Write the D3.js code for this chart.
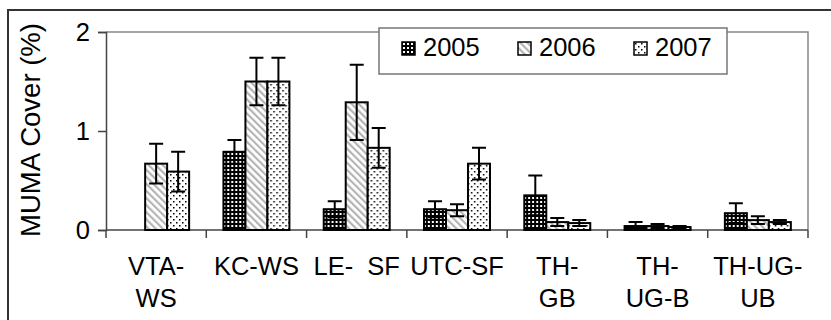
<!DOCTYPE html>
<html lang="en">
<head>
    <meta charset="UTF-8">
    <title>MUMA Cover</title>
    <script src="https://d3js.org/d3.v7.min.js"></script>
    <style>
        body { margin: 0; background: #fff; }
        text { font-family: "Liberation Sans", Arial, sans-serif; fill: #000; }
        .bar { stroke: #000; stroke-width: 2px; }
        .err { stroke: #000; stroke-width: 2px; fill: none; }
    </style>
</head>
<body>
    <svg id="chart" width="831" height="320"></svg>

    <script>
        // data
        const categories = ["VTA-WS", "KC-WS", "LE-SF", "UTC-SF", "TH-GB", "TH-UG-B", "TH-UG-UB"];
        const tickLabels = [["VTA-", "WS"], ["KC-WS"], ["LE-\u00a0\u00a0SF"], ["UTC-SF"], ["TH-", "GB"], ["TH-", "UG-B"], ["TH-UG-", "UB"]];
        const years = ["2005", "2006", "2007"];
        const v2005 = [null, 0.79, 0.21, 0.21, 0.35, 0.04, 0.17];
        const e2005 = [null, 0.12, 0.08, 0.08, 0.20, 0.04, 0.10];
        const v2006 = [0.67, 1.50, 1.29, 0.20, 0.08, 0.04, 0.10];
        const e2006 = [0.20, 0.24, 0.38, 0.06, 0.04, 0.02, 0.04];
        const v2007 = [0.59, 1.50, 0.83, 0.67, 0.07, 0.03, 0.08];
        const e2007 = [0.20, 0.24, 0.20, 0.16, 0.03, 0.01, 0.02];
        const yTicks = [0, 1, 2];

        const values = { "2005": v2005, "2006": v2006, "2007": v2007 };
        const errors = { "2005": e2005, "2006": e2006, "2007": e2007 };

        const svg = d3.select("#chart");
        const margin = { left: 106, top: 32, right: 23, bottom: 90 };
        const width = 831 - margin.left - margin.right;
        const height = 320 - margin.top - margin.bottom;
        const fs = 25.5;

        // fill patterns, one per year
        const defs = svg.append("defs");
        const p1 = defs.append("pattern").attr("id", "p2005")
            .attr("patternUnits", "userSpaceOnUse").attr("width", 4).attr("height", 4);
        p1.append("rect").attr("width", 4).attr("height", 4).attr("fill", "#000");
        p1.append("rect").attr("x", 1).attr("y", 1).attr("width", 2).attr("height", 2).attr("fill", "#fff");

        const p2 = defs.append("pattern").attr("id", "p2006")
            .attr("patternUnits", "userSpaceOnUse").attr("width", 5).attr("height", 5)
            .attr("patternTransform", "rotate(-45)");
        p2.append("rect").attr("width", 5).attr("height", 5).attr("fill", "#fff");
        p2.append("rect").attr("width", 2.2).attr("height", 5).attr("fill", "#b4b4b4");

        const p3 = defs.append("pattern").attr("id", "p2007")
            .attr("patternUnits", "userSpaceOnUse").attr("width", 6).attr("height", 6);
        p3.append("rect").attr("width", 6).attr("height", 6).attr("fill", "#fff");
        p3.append("rect").attr("x", 1).attr("y", 1).attr("width", 1.5).attr("height", 1.5).attr("fill", "#000");
        p3.append("rect").attr("x", 4).attr("y", 4).attr("width", 1.5).attr("height", 1.5).attr("fill", "#000");

        // outer frame (only left and top show)
        svg.append("path")
            .attr("d", "M8,320 V10 H831")
            .attr("fill", "none").attr("stroke", "#333").attr("stroke-width", 2);

        const g = svg.append("g").attr("transform", `translate(${margin.left},${margin.top})`);

        const x0 = d3.scaleBand().domain(categories).range([0, width]).padding(0);
        const x1 = d3.scaleBand().domain(years).range([0, x0.bandwidth()]).paddingInner(0).paddingOuter(0.78);
        const y = d3.scaleLinear().domain([0, 2]).range([height, 0]);

        // plot area border, top and right
        g.append("path")
            .attr("d", `M0,0 H${width} V${height}`)
            .attr("fill", "none").attr("stroke", "#888").attr("stroke-width", 1.5);

        // y axis
        const yAxis = g.append("g")
            .call(d3.axisLeft(y).tickValues(yTicks).tickFormat(d3.format("d")).tickSize(8).tickPadding(8));
        yAxis.select(".domain").attr("stroke", "#444").attr("stroke-width", 1.5);
        yAxis.selectAll(".tick line").attr("stroke", "#444").attr("stroke-width", 1.5);
        yAxis.selectAll("text").attr("font-size", fs).attr("font-family", "Liberation Sans, Arial, sans-serif");

        // x axis line and ticks at band edges
        g.append("line")
            .attr("x1", 0).attr("x2", width).attr("y1", height).attr("y2", height)
            .attr("stroke", "#444").attr("stroke-width", 1.5);
        const edges = categories.map(c => x0(c)).concat([width]);
        g.selectAll(".xtick")
            .data(edges)
            .enter()
            .append("line")
            .attr("class", "xtick")
            .attr("x1", d => d).attr("x2", d => d)
            .attr("y1", height).attr("y2", height + 8)
            .attr("stroke", "#444").attr("stroke-width", 1.5);

        // category labels, may wrap on two lines
        const lbl = g.selectAll(".xlabel")
            .data(categories)
            .enter()
            .append("text")
            .attr("class", "xlabel")
            .attr("text-anchor", "middle")
            .attr("font-size", fs)
            .attr("transform", d => `translate(${x0(d) + x0.bandwidth() / 2},${height + 45})`);
        lbl.each(function(d, i) {
            const t = d3.select(this);
            tickLabels[i].forEach((line, j) => {
                t.append("tspan").attr("x", 0).attr("dy", j === 0 ? 0 : 32).text(line);
            });
        });

        // bars
        const groups = g.selectAll(".grp")
            .data(categories)
            .enter()
            .append("g")
            .attr("class", "grp")
            .attr("transform", d => `translate(${x0(d)},0)`);

        groups.each(function(c, i) {
            const grp = d3.select(this);
            years.forEach(yr => {
                const v = values[yr][i];
                if (v === null) return;
                const e = errors[yr][i];
                const bx = x1(yr);
                const bw = x1.bandwidth();
                grp.append("rect")
                    .attr("class", "bar")
                    .attr("x", bx).attr("y", y(v))
                    .attr("width", bw).attr("height", height - y(v))
                    .attr("fill", `url(#p${yr})`);
                const cx = bx + bw / 2;
                const cap = 7;
                grp.append("path")
                    .attr("class", "err")
                    .attr("d", `M${cx},${y(v + e)} V${y(Math.max(0, v - e))}` +
                               ` M${cx - cap},${y(v + e)} H${cx + cap}` +
                               ` M${cx - cap},${y(Math.max(0, v - e))} H${cx + cap}`);
            });
        });

        // y title
        svg.append("text")
            .attr("transform", "translate(40,130) rotate(-90)")
            .attr("text-anchor", "middle")
            .attr("font-size", 27.5)
            .text("MUMA Cover (%)");

        // legend
        const legend = svg.append("g").attr("transform", "translate(379,28)");
        legend.append("rect")
            .attr("width", 348).attr("height", 46)
            .attr("fill", "#fff").attr("stroke", "#777").attr("stroke-width", 1.5);
        const item = legend.selectAll(".item")
            .data(years)
            .enter()
            .append("g")
            .attr("class", "item")
            .attr("transform", (d, i) => `translate(${23 + i * 116},14)`);
        item.append("rect")
            .attr("width", 13).attr("height", 13)
            .attr("fill", d => `url(#p${d})`)
            .attr("stroke", "#000").attr("stroke-width", 1.5);
        item.append("text")
            .attr("x", 21).attr("y", 14)
            .attr("font-size", fs)
            .text(d => d);
    </script>
</body>
</html>
